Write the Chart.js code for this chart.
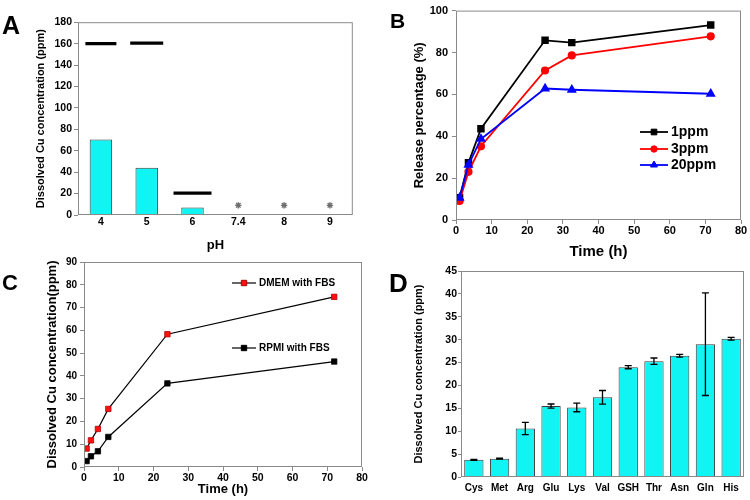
<!DOCTYPE html>
<html>
<head>
<meta charset="utf-8">
<script src="https://cdn.jsdelivr.net/npm/chart.js@4.4.1/dist/chart.umd.min.js"></script>
<style>
body { margin: 0; background: #fff; }
#page { position: relative; width: 750px; height: 500px; overflow: hidden; }
canvas { position: absolute; }
.tag { position: absolute; font-family: 'Liberation Sans', Arial, sans-serif; font-weight: bold; line-height: 1; color: #000; }
</style>
</head>
<body>
<div id="page">
  <canvas id="chartA" width="375" height="255" style="left:0;top:0"></canvas>
  <canvas id="chartB" width="375" height="262" style="left:375px;top:0"></canvas>
  <canvas id="chartC" width="375" height="250" style="left:0;top:250px"></canvas>
  <canvas id="chartD" width="375" height="250" style="left:375px;top:250px"></canvas>
  <div class="tag" style="left:2px;top:13px;font-size:25px">A</div>
  <div class="tag" style="left:390px;top:10px;font-size:21px">B</div>
  <div class="tag" style="left:2px;top:272px;font-size:22px">C</div>
  <div class="tag" style="left:389px;top:270px;font-size:26px">D</div>
</div>
<script>
// A: dissolved Cu vs pH
const phLabels = ['4', '5', '6', '7.4', '8', '9'];
const cuAtPh = [70.5, 44, 7, 0.6, 0.5, 0.5];
const limitAtPh = [160, 160.5, 20.5, null, null, null];
const starAtPh = [null, null, null, 9, 9, 9];

// B: release percentage over time
const releaseTimes = [1, 3.5, 7, 25, 32.5, 71.5];
const release1ppm = [10.6, 27.3, 43.6, 85.8, 84.7, 93.1];
const release3ppm = [9.1, 23, 35.2, 71.4, 78.6, 87.7];
const release20ppm = [10.6, 26.3, 38.7, 62.8, 62.2, 60.3];

// C: dissolved Cu in culture media
const mediaTimes = [0.75, 2, 4, 7, 24, 72];
const dmemFbs = [8.1, 11.7, 16.7, 25.5, 58.3, 74.7];
const rpmiFbs = [2.6, 4.7, 6.9, 13.2, 36.7, 46.3];

// D: dissolved Cu with amino acids
const aminoLabels = ['Cys', 'Met', 'Arg', 'Glu', 'Lys', 'Val', 'GSH', 'Thr', 'Asn', 'Gln', 'His'];
const cuAmino = [3.75, 4.0, 10.6, 15.5, 15.2, 17.4, 24.0, 25.3, 26.5, 29.0, 30.2];
const cuAminoErr = [0.1, 0.1, 1.35, 0.45, 0.95, 1.5, 0.35, 0.7, 0.3, 11.2, 0.3];

Chart.defaults.font.family = "'Liberation Sans', Arial, sans-serif";
Chart.defaults.font.weight = 'bold';
Chart.defaults.color = '#000';
Chart.defaults.animation = false;
Chart.defaults.responsive = false;
Chart.defaults.plugins.legend.display = false;
Chart.defaults.plugins.tooltip.enabled = false;

const CYAN = '#10f4f4';
const AXIS = '#8a8a8a';

function xy(xs, ys) {
    return xs.map(function (x, i) { return { x: x, y: ys[i] }; });
}

function leftAxis(o) {
    return {
        min: o.min, max: o.max,
        ticks: { stepSize: o.step, font: { size: o.tickSize }, padding: o.pad },
        grid: { drawOnChartArea: false, tickLength: o.tickLen, color: AXIS },
        border: { display: false },
        title: { display: true, text: o.title, font: { size: o.titleSize }, padding: 0 },
        afterFit: function (s) { s.width = o.width; }
    };
}

function bottomAxis(o) {
    const ax = {
        type: o.type,
        ticks: { font: { size: o.tickSize }, padding: o.pad, maxRotation: 0, autoSkip: false },
        grid: { drawOnChartArea: false, drawTicks: o.tickLen > 0, tickLength: o.tickLen, color: AXIS },
        border: { display: false },
        title: { display: !!o.title, text: o.title, font: { size: o.titleSize }, padding: { top: 0, bottom: o.titlePad } },
        afterFit: function (s) { s.height = o.height; }
    };
    if (o.type === 'linear') {
        ax.min = o.min; ax.max = o.max; ax.ticks.stepSize = o.step;
    }
    return ax;
}

// box round the plot area
const frame = {
    id: 'frame',
    afterDatasetsDraw(chart) {
        const a = chart.chartArea, ctx = chart.ctx;
        ctx.save();
        ctx.strokeStyle = AXIS;
        ctx.lineWidth = 1;
        ctx.strokeRect(a.left + 0.5, a.top + 0.5, a.right - a.left - 1, a.bottom - a.top - 1);
        ctx.restore();
    }
};

function marker(ctx, style, x, y, r, fill, stroke) {
    ctx.fillStyle = fill;
    ctx.strokeStyle = stroke;
    ctx.lineWidth = 1;
    ctx.beginPath();
    if (style === 'rect') {
        const s = r * Math.SQRT1_2;
        ctx.rect(x - s, y - s, 2 * s, 2 * s);
    } else if (style === 'circle') {
        ctx.arc(x, y, r, 0, Math.PI * 2);
    } else {
        const h = r * 1.5, w = r * Math.sqrt(3);
        ctx.moveTo(x, y - r);
        ctx.lineTo(x + w / 2, y + h - r);
        ctx.lineTo(x - w / 2, y + h - r);
        ctx.closePath();
    }
    ctx.fill();
    ctx.stroke();
}

function legendRows(rows, font) {
    return {
        id: 'legendRows',
        afterDraw(chart) {
            const ctx = chart.ctx;
            ctx.save();
            ctx.font = font;
            ctx.textBaseline = 'middle';
            rows.forEach(function (r) {
                ctx.strokeStyle = r.line;
                ctx.lineWidth = r.width;
                ctx.beginPath();
                ctx.moveTo(r.x, r.y);
                ctx.lineTo(r.x + r.len, r.y);
                ctx.stroke();
                marker(ctx, r.style, r.x + r.len / 2, r.y, r.radius, r.fill, r.edge);
                ctx.fillStyle = '#000';
                ctx.fillText(r.text, r.x + r.len + 3, r.y + 0.5);
            });
            ctx.restore();
        }
    };
}

const errorBars = {
    id: 'errorBars',
    afterDatasetsDraw(chart) {
        const meta = chart.getDatasetMeta(0), y = chart.scales.y, ctx = chart.ctx;
        ctx.save();
        ctx.strokeStyle = '#000';
        ctx.lineWidth = 1.3;
        meta.data.forEach(function (bar, i) {
            const top = y.getPixelForValue(cuAmino[i] + cuAminoErr[i]);
            const bot = y.getPixelForValue(cuAmino[i] - cuAminoErr[i]);
            ctx.beginPath();
            ctx.moveTo(bar.x, top); ctx.lineTo(bar.x, bot);
            ctx.moveTo(bar.x - 3.5, top); ctx.lineTo(bar.x + 3.5, top);
            ctx.moveTo(bar.x - 3.5, bot); ctx.lineTo(bar.x + 3.5, bot);
            ctx.stroke();
        });
        ctx.restore();
    }
};

// ---- A ----
new Chart(document.getElementById('chartA'), {
    type: 'bar',
    data: {
        labels: phLabels,
        datasets: [{
            data: cuAtPh,
            backgroundColor: CYAN,
            borderColor: '#3a3a3a',
            borderWidth: 1,
            barPercentage: 0.49,
            categoryPercentage: 1,
            order: 2
        }, {
            type: 'line',
            data: limitAtPh,
            showLine: false,
            pointStyle: 'line',
            pointRadius: [15.5, 16.5, 19],
            pointBorderWidth: 3.2,
            pointBorderColor: '#000',
            order: 1
        }, {
            type: 'line',
            data: starAtPh,
            showLine: false,
            pointStyle: 'star',
            pointRadius: 3.2,
            pointBorderWidth: 1.4,
            pointBorderColor: '#6e6e6e',
            order: 0
        }]
    },
    options: {
        layout: { padding: { left: 34, top: 7, right: 14, bottom: 0 } },
        scales: {
            x: bottomAxis({ type: 'category', tickSize: 10.5, pad: 1, tickLen: 0, height: 40, title: 'pH', titleSize: 13, titlePad: 2 }),
            y: leftAxis({ min: 0, max: 180, step: 20, tickSize: 10.5, pad: 2, tickLen: 4, width: 44, title: 'Dissolved Cu concentration (ppm)', titleSize: 11 })
        }
    },
    plugins: [frame]
});

// ---- B ----
new Chart(document.getElementById('chartB'), {
    type: 'line',
    data: {
        datasets: [{
            data: xy(releaseTimes, release20ppm),
            borderColor: '#0000ff', backgroundColor: '#0000ff',
            pointStyle: 'triangle', pointRadius: 4, borderWidth: 1.8
        }, {
            data: xy(releaseTimes, release3ppm),
            borderColor: '#ff0000', backgroundColor: '#ff0000',
            pointStyle: 'circle', pointRadius: 3.2, borderWidth: 1.8
        }, {
            data: xy(releaseTimes, release1ppm),
            borderColor: '#000', backgroundColor: '#000',
            pointStyle: 'rect', pointRadius: 4, borderWidth: 1.8
        }]
    },
    options: {
        layout: { padding: { left: 37, top: 7, right: 9, bottom: 0 } },
        scales: {
            x: bottomAxis({ type: 'linear', min: 0, max: 80, step: 10, tickSize: 11, pad: 0, tickLen: 4, height: 42, title: 'Time (h)', titleSize: 15, titlePad: 1 }),
            y: leftAxis({ min: 0, max: 100, step: 20, tickSize: 11, pad: 4, tickLen: 4, width: 44, title: 'Release percentage (%)', titleSize: 13 })
        }
    },
    plugins: [frame, legendRows([
        { x: 265, y: 132, len: 28, width: 1.8, line: '#000', style: 'rect', radius: 4, fill: '#000', edge: '#000', text: '1ppm' },
        { x: 265, y: 149, len: 28, width: 1.8, line: '#ff0000', style: 'circle', radius: 3.2, fill: '#ff0000', edge: '#ff0000', text: '3ppm' },
        { x: 265, y: 165, len: 28, width: 1.8, line: '#0000ff', style: 'triangle', radius: 4, fill: '#0000ff', edge: '#0000ff', text: '20ppm' }
    ], "bold 14px 'Liberation Sans', Arial, sans-serif")]
});

// ---- C ----
new Chart(document.getElementById('chartC'), {
    type: 'line',
    data: {
        datasets: [{
            data: xy(mediaTimes, dmemFbs),
            borderColor: '#000', borderWidth: 1.2,
            pointStyle: 'rect', pointRadius: 3.8,
            pointBackgroundColor: '#ff1010', pointBorderColor: '#b00000', pointBorderWidth: 0.8
        }, {
            data: xy(mediaTimes, rpmiFbs),
            borderColor: '#000', borderWidth: 1.2,
            pointStyle: 'rect', pointRadius: 3.8,
            pointBackgroundColor: '#000', pointBorderColor: '#000', pointBorderWidth: 0.8
        }]
    },
    options: {
        layout: { padding: { left: 45, top: 12, right: 13, bottom: 0 } },
        scales: {
            x: bottomAxis({ type: 'linear', min: 0, max: 80, step: 10, tickSize: 10.5, pad: 1, tickLen: 4, height: 33, title: 'Time (h)', titleSize: 13, titlePad: 3 }),
            y: leftAxis({ min: 0, max: 90, step: 10, tickSize: 10, pad: 3, tickLen: 4, width: 39, title: 'Dissolved Cu concentration(ppm)', titleSize: 13 })
        }
    },
    plugins: [frame, legendRows([
        { x: 232, y: 33, len: 24, width: 1.2, line: '#000', style: 'rect', radius: 3.8, fill: '#ff1010', edge: '#b00000', text: 'DMEM with FBS' },
        { x: 232, y: 98, len: 24, width: 1.2, line: '#000', style: 'rect', radius: 3.8, fill: '#000', edge: '#000', text: 'RPMI with FBS' }
    ], "bold 10px 'Liberation Sans', Arial, sans-serif")]
});

// ---- D ----
new Chart(document.getElementById('chartD'), {
    type: 'bar',
    data: {
        labels: aminoLabels,
        datasets: [{
            data: cuAmino,
            backgroundColor: CYAN,
            borderColor: '#3a3a3a',
            borderWidth: 1,
            barPercentage: 0.75,
            categoryPercentage: 1
        }]
    },
    options: {
        layout: { padding: { left: 37, top: 21, right: 6, bottom: 0 } },
        scales: {
            x: bottomAxis({ type: 'category', tickSize: 10, pad: 5, tickLen: 0, height: 23 }),
            y: leftAxis({ min: 0, max: 45, step: 5, tickSize: 10.5, pad: 1, tickLen: 3, width: 49, title: 'Dissolved Cu concentration (ppm)', titleSize: 11 })
        }
    },
    plugins: [frame, errorBars]
});
</script>
</body>
</html>
